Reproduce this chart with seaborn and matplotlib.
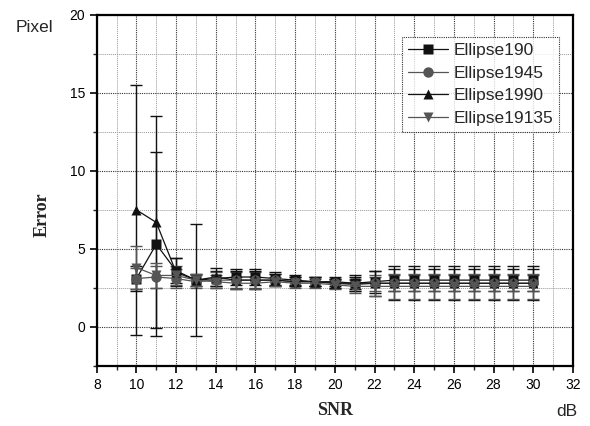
import numpy as np
import pandas as pd
import matplotlib
matplotlib.use("Agg")
import matplotlib.pyplot as plt
import seaborn as sns
from matplotlib.ticker import MultipleLocator

snr = list(range(10, 31))
ellipse190 = [3.1, 5.3, 3.6, 3.0, 3.1, 3.2, 3.2, 3.1, 3.0, 2.9, 2.9, 2.8, 2.9, 3.0, 3.0, 3.0, 3.0, 3.0, 3.0, 3.0, 3.0]
err190 =     [0.8, 5.9, 0.8, 0.4, 0.5, 0.5, 0.5, 0.4, 0.3, 0.3, 0.3, 0.4, 0.7, 0.7, 0.7, 0.7, 0.7, 0.7, 0.7, 0.7, 0.7]
ellipse1945 = [3.1, 3.2, 3.1, 2.9, 3.0, 3.0, 3.0, 3.0, 2.9, 2.9, 2.8, 2.7, 2.8, 2.8, 2.8, 2.8, 2.8, 2.8, 2.8, 2.8, 2.8]
err1945 =     [0.7, 0.7, 0.6, 0.4, 0.5, 0.5, 0.5, 0.4, 0.3, 0.3, 0.3, 0.4, 0.5, 0.5, 0.5, 0.5, 0.5, 0.5, 0.5, 0.5, 0.5]
ellipse1990 = [7.5, 6.7, 3.5, 3.0, 3.2, 3.0, 3.0, 3.0, 2.9, 2.9, 2.8, 2.8, 2.8, 2.8, 2.8, 2.8, 2.8, 2.8, 2.8, 2.8, 2.8]
err1990 =     [8.0, 6.8, 0.9, 3.6, 0.6, 0.6, 0.6, 0.4, 0.3, 0.3, 0.3, 0.5, 0.8, 1.1, 1.1, 1.1, 1.1, 1.1, 1.1, 1.1, 1.1]
ellipse19135 = [3.8, 3.3, 3.3, 3.0, 2.9, 2.8, 2.8, 2.9, 2.8, 2.8, 2.7, 2.6, 2.6, 2.6, 2.6, 2.6, 2.6, 2.6, 2.6, 2.6, 2.6]
err19135 =     [1.4, 0.8, 0.6, 0.4, 0.4, 0.4, 0.4, 0.3, 0.3, 0.3, 0.3, 0.4, 0.6, 0.8, 0.8, 0.8, 0.8, 0.8, 0.8, 0.8, 0.8]

names = ["Ellipse190", "Ellipse1945", "Ellipse1990", "Ellipse19135"]
values = [ellipse190, ellipse1945, ellipse1990, ellipse19135]
errors = [err190, err1945, err1990, err19135]

df = pd.DataFrame({
    "SNR": snr * 4,
    "Error": sum(values, []),
    "err": sum(errors, []),
    "series": sum([[n] * len(snr) for n in names], []),
})

sns.set_style("white")
plt.rcParams['font.family'] = ['Liberation Sans', 'DejaVu Sans']

fig = plt.figure(figsize=(5.9, 4.26), dpi=100)
ax = fig.add_axes([0.164, 0.141, 0.807, 0.824])

colors = {"Ellipse190": "#111111", "Ellipse1945": "#555555",
          "Ellipse1990": "#111111", "Ellipse19135": "#555555"}
markers = {"Ellipse190": "s", "Ellipse1945": "o",
           "Ellipse1990": "^", "Ellipse19135": "v"}

for n in names:
    sub = df[df.series == n]
    ax.errorbar(sub.SNR, sub.Error, yerr=sub.err, fmt="none",
                ecolor=colors[n], elinewidth=1.0, capsize=4, capthick=1.0, zorder=2)

sns.lineplot(data=df, x="SNR", y="Error", hue="series", style="series",
             palette=colors, markers=markers, dashes=False, markersize=7.5,
             linewidth=0.9, markeredgecolor="none", ax=ax, zorder=3, legend=True)

ax.set_xlim(8, 32)
ax.set_ylim(-2.5, 20)
ax.xaxis.set_major_locator(MultipleLocator(2))
ax.xaxis.set_minor_locator(MultipleLocator(1))
ax.yaxis.set_major_locator(MultipleLocator(5))
ax.yaxis.set_minor_locator(MultipleLocator(2.5))
ax.grid(which="major", color="#333333", linestyle=(0, (1, 1)), linewidth=0.8)
ax.grid(which="minor", color="#999999", linestyle=(0, (1, 1)), linewidth=0.7)
ax.set_axisbelow(True)
ax.tick_params(which="major", direction="out", length=5, width=1.2, labelsize=10,
               bottom=True, left=True, colors="black")
ax.tick_params(which="minor", direction="out", length=3, width=1.0, bottom=True, left=True)
for s in ax.spines.values():
    s.set_color("black")
    s.set_linewidth(1.6)

ax.set_xlabel("")
ax.set_ylabel("")
fig.text(0.568, 0.037, "SNR", family="Liberation Serif", weight="bold", fontsize=13,
         ha="center", va="center")
fig.text(0.072, 0.495, "Error", family="Liberation Serif", weight="bold", fontsize=13,
         ha="center", va="center", rotation=90)
fig.text(0.059, 0.935, "Pixel", fontsize=12.5, ha="center", va="center")
fig.text(0.961, 0.035, "dB", fontsize=12.5, ha="center", va="center")

leg = ax.legend(loc="upper right", bbox_to_anchor=(0.971, 0.937), fontsize=12.5,
                frameon=True, fancybox=False, edgecolor="black", handlelength=2.3,
                borderpad=0.35, labelspacing=0.42, handletextpad=0.3, borderaxespad=0)
leg.get_frame().set_linewidth(0.8)
leg.get_frame().set_linestyle((0, (1, 1)))
for h in leg.legend_handles:
    h.set_markeredgecolor("none")

fig.savefig("out.png", dpi=100)
